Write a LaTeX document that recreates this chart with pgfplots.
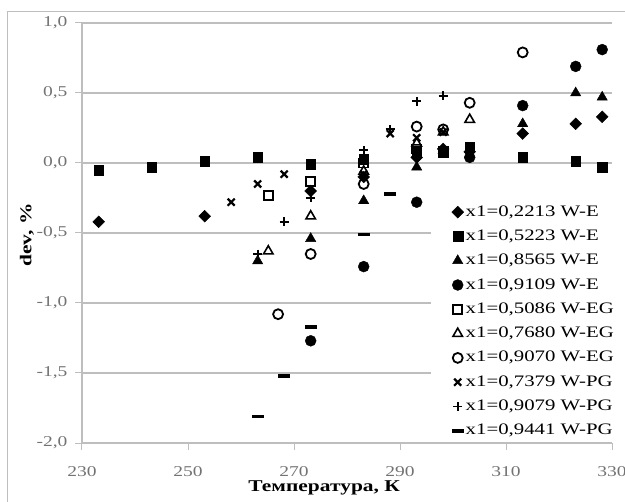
\documentclass[border=0pt]{standalone}
\usepackage{fontspec}
\setmainfont{Liberation Serif}[FakeStretch=1.3]
\usepackage{pgfplots}
\pgfplotsset{compat=1.18}
\definecolor{gridc}{RGB}{190,190,190}
\definecolor{tickc}{RGB}{115,115,115}
\begin{document}
\begin{tikzpicture}
\path[use as bounding box] (-82bp,-59bp) rectangle (543bp,443bp);
\draw[gridc, line width=1bp] (-74bp,-60bp) -- (-74bp,431bp) -- (560bp,431bp);
\begin{axis}[
  scale only axis, width=530bp, height=420bp,
  at={(0,0)}, anchor=south west,
  xmin=230, xmax=330, ymin=-2, ymax=1,
  xtick={230,250,...,330}, ytick={-2,-1.5,...,1},
  axis x line*=bottom, axis y line*=left,
  x axis line style={-, gridc, line width=1.2bp},
  y axis line style={-, gridc, line width=1.2bp},
  ymajorgrids, grid style={gridc, line width=1.2bp},
  tick align=outside, major tick length=7bp,
  tick style={gridc, line width=1bp},
  /pgf/number format/assume math mode=true,
  ticklabel style={font=\fontsize{15bp}{18bp}\selectfont, text=tickc},
  yticklabel style={xshift=-4bp, /pgf/number format/fixed, /pgf/number format/fixed zerofill, /pgf/number format/precision=1, /pgf/number format/use comma},
  xticklabel style={yshift=-13bp, /pgf/number format/fixed, /pgf/number format/precision=0, /pgf/number format/1000 sep={}},
  xlabel={Температура, К},
  ylabel={dev, \%},
  xlabel style={at={(axis description cs:0.457,-0.107)}, anchor=center, font=\bfseries\fontsize{16.5bp}{19bp}\selectfont},
  ylabel style={at={(axis description cs:-0.104,0.495)}, anchor=center, font=\bfseries\fontsize{16.5bp}{19bp}\selectfont},
  legend cell align=left,
  legend image code/.code={\path[draw=none,fill=none] (0bp,-1bp) rectangle (34bp,1bp); \draw[#1] plot[only marks] coordinates {(27bp,0bp)};},
  legend style={at={(1,0)}, anchor=south east, xshift=3bp, yshift=2bp, draw=none, fill=white,
    inner xsep=0pt, inner ysep=2bp, row sep=8.3bp,
    font=\fontsize{16bp}{19bp}\selectfont,
    nodes={inner sep=1bp, text height=11bp, text depth=3bp}},
]
% x1=0,2213 W-E
\addplot[only marks, black, mark=square*, mark size=4.2, mark options={rotate=45}] coordinates {
(233.15,-0.42) (253.15,-0.38) (273.15,-0.20) (283.15,-0.10) (293.15,0.04) (298.15,0.10) (303.15,0.08) (313.15,0.21) (323.15,0.28) (328.15,0.33)};
\addlegendentry{x1=0,2213 W-E}
% x1=0,5223 W-E
\addplot[only marks, black, mark=square*, mark size=5] coordinates {
(233.15,-0.05) (243.15,-0.03) (253.15,0.01) (263.15,0.04) (273.15,-0.01) (283.15,0.03) (293.15,0.08) (298.15,0.08) (303.15,0.11) (313.15,0.04) (323.15,0.01) (328.15,-0.03)};
\addlegendentry{x1=0,5223 W-E}
% x1=0,8565 W-E
\addplot[only marks, black, mark=triangle*, mark size=6] coordinates {
(263.15,-0.70) (273.15,-0.54) (283.15,-0.27) (293.15,-0.03) (298.15,0.09) (303.15,0.06) (313.15,0.28) (323.15,0.50) (328.15,0.47)};
\addlegendentry{x1=0,8565 W-E}
% x1=0,9109 W-E
\addplot[only marks, black, mark=*, mark size=5.5] coordinates {
(273.15,-1.27) (283.15,-0.74) (293.15,-0.28) (303.15,0.04) (313.15,0.41) (323.15,0.69) (328.15,0.81)};
\addlegendentry{x1=0,9109 W-E}
% x1=0,5086 W-EG
\addplot[only marks, black, mark=square, mark size=4.5, line width=1.8bp] coordinates {
(265.15,-0.23) (273.15,-0.13) (283.15,0.00) (293.15,0.10) (298.15,0.08)};
\addlegendentry{x1=0,5086 W-EG}
% x1=0,7680 W-EG
\addplot[only marks, black, mark=triangle, mark size=5.5, line width=1.6bp] coordinates {
(265.15,-0.63) (273.15,-0.38) (283.15,-0.06) (293.15,0.14) (298.15,0.22) (303.15,0.31)};
\addlegendentry{x1=0,7680 W-EG}
% x1=0,9070 W-EG
\addplot[only marks, black, mark=o, mark size=5, line width=1.8bp] coordinates {
(267.0,-1.08) (273.15,-0.65) (283.15,-0.15) (293.15,0.26) (298.15,0.24) (303.15,0.43) (313.15,0.79)};
\addlegendentry{x1=0,9070 W-EG}
% x1=0,7379 W-PG
\addplot[only marks, black, mark=x, mark size=5, line width=2.2bp] coordinates {
(258.15,-0.28) (263.15,-0.15) (268.15,-0.08) (283.15,-0.08) (288.15,0.21) (293.15,0.18) (298.15,0.22)};
\addlegendentry{x1=0,7379 W-PG}
% x1=0,9079 W-PG
\addplot[only marks, black, mark=+, mark size=4.5, line width=1.8bp] coordinates {
(263.15,-0.65) (268.15,-0.42) (273.15,-0.25) (283.15,0.09) (288.15,0.24) (293.15,0.44) (298.15,0.48)};
\addlegendentry{x1=0,9079 W-PG}
% x1=0,9441 W-PG
\addplot[only marks, black, mark=-, mark size=6, line width=3.5bp] coordinates {
(263.15,-1.81) (268.15,-1.52) (273.15,-1.17) (283.15,-0.51) (288.15,-0.22)};
\addlegendentry{x1=0,9441 W-PG}
\end{axis}
\end{tikzpicture}
\end{document}
